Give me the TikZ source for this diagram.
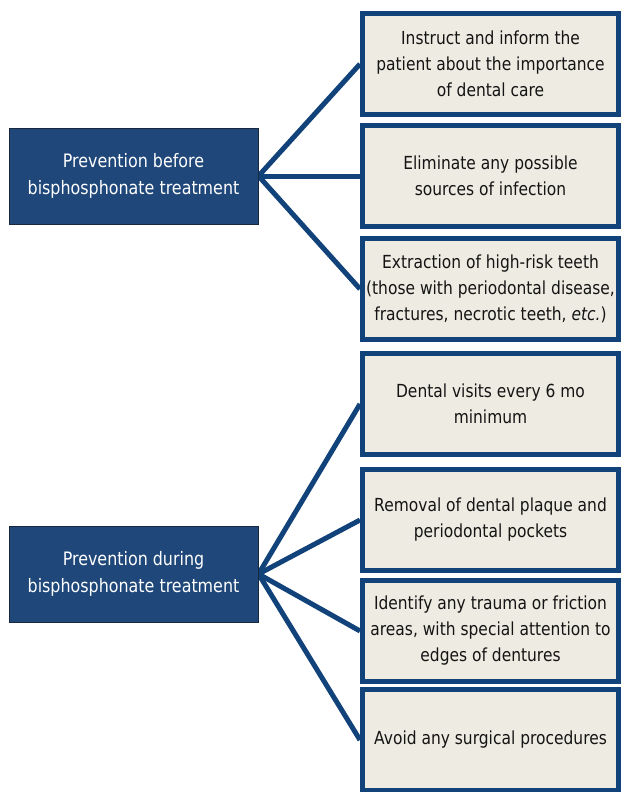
\documentclass[tikz,border=0pt]{standalone}
\usepackage{fontspec}
\setmainfont{DejaVu Sans}[FakeStretch=0.86]
\usetikzlibrary{backgrounds}
\definecolor{leftfill}{RGB}{31,71,122}
\definecolor{leftedge}{RGB}{25,40,60}
\definecolor{rightedge}{RGB}{18,66,122}
\definecolor{rightfill}{RGB}{238,236,226}
\definecolor{txt}{RGB}{20,20,20}
\tikzset{
  leftbox/.style={draw=leftedge, line width=1pt, fill=leftfill, text=white,
    minimum width=249pt, minimum height=96pt, inner sep=0pt, align=center,
    font=\fontsize{18.5}{27}\selectfont},
  rightbox/.style={draw=rightedge, line width=5pt, fill=rightfill, text=txt,
    minimum width=256pt, minimum height=101pt, inner sep=0pt, align=center,
    font=\fontsize{18}{26}\selectfont},
  link/.style={draw=rightedge, line width=5pt}
}
\begin{document}
\begin{tikzpicture}[x=1pt,y=-1pt]
\useasboundingbox (0,0) rectangle (622,792);

\node[leftbox] (L1) at (133.5,176) {Prevention before\\bisphosphonate treatment};
\node[leftbox] (L2) at (133.5,574) {Prevention during\\bisphosphonate treatment};

\node[rightbox] (R1) at (490.5,64) {Instruct and inform the\\patient about the importance\\of dental care};
\node[rightbox] (R2) at (490.5,176) {Eliminate any possible\\sources of infection};
\node[rightbox] (R3) at (490.5,289) {Extraction of high-risk teeth\\(those with periodontal disease,\\fractures, necrotic teeth, \textit{etc.})};
\node[rightbox] (R4) at (490.5,404) {Dental visits every 6 mo\\minimum};
\node[rightbox] (R5) at (490.5,520) {Removal of dental plaque and\\periodontal pockets};
\node[rightbox] (R6) at (490.5,631) {Identify any trauma or friction\\areas, with special attention to\\edges of dentures};
\node[rightbox] (R7) at (490.5,740) {Avoid any surgical procedures};

\begin{scope}[on background layer]
\fill[white] (0,0) rectangle (622,792);
\foreach \r in {R1,R2,R3} \draw[link] (L1.east) -- (\r.west);
\foreach \r in {R4,R5,R6,R7} \draw[link] (L2.east) -- (\r.west);
\end{scope}
\end{tikzpicture}
\end{document}
